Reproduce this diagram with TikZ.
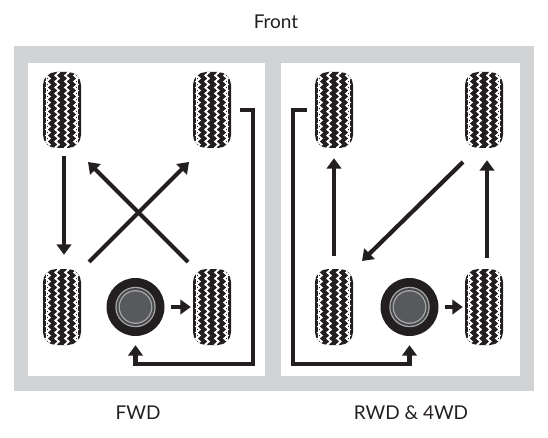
\documentclass[tikz,border=0pt]{standalone}
\usepackage{fontspec}
\setmainfont{Lato}
\usetikzlibrary{arrows.meta,decorations.pathmorphing}

\definecolor{framegray}{HTML}{D1D3D4}
\definecolor{ringgray}{HTML}{A7A9AC}
\definecolor{hubgray}{HTML}{58595B}
\definecolor{inkblack}{HTML}{231F20}

\tikzset{
    tire/.style={rectangle, inner sep=0pt, minimum width=38pt, minimum height=76pt,
        rounded corners=13pt, fill=inkblack,
        path picture={
            \begin{scope}[shift={(path picture bounding box.center)}, sharp corners]
                % White grooves: straight lines beside the shoulders, zigzags between the ribs
                \foreach \col in {-15.2,15.2} {
                    \draw[white, line width=1.2pt] (\col,-40) -- (\col,40);
                }
                % Running each zigzag against its neighbour makes the ribs chains of diamonds
                \foreach \col/\dir in {-14/1,-4.9/-1,4.9/1,14/-1} {
                    \draw[white, line width=1.8pt, decorate,
                        decoration={zigzag, segment length=6pt, amplitude=1.7pt}] (\col,-39*\dir) -- (\col,39*\dir);
                }
            \end{scope}
        }},
    wheel/.style={circle, inner sep=0pt, minimum size=58pt, fill=inkblack,
        path picture={
            \begin{scope}[shift={(path picture bounding box.center)}]
                \fill[ringgray] (0,0) circle (20.2);
                \fill[hubgray!70!inkblack] (0,0) circle (18.9);
                \fill[ringgray] (0,0) circle (16.9);
                \fill[hubgray] (0,0) circle (15.6);
            \end{scope}
        }},
    move/.style={draw=inkblack, line width=4.2pt, -{Triangle[length=10.5pt,width=14.5pt]}},
    caption/.style={inner sep=0pt, font=\fontsize{19}{22}\selectfont, text=inkblack}
}

\begin{document}
\begin{tikzpicture}[x=1pt,y=-1pt]
    \useasboundingbox (0,0) rectangle (548,438);

    % Grey frame and the two white panels
    \fill[framegray] (14,46) rectangle (534,391);
    \fill[white] (28,63) rectangle (265,376);
    \fill[white] (281,63) rectangle (520,376);

    % Titles
    \node[caption] (front) at (276,22) {Front};
    \node[caption] (fwd) at (138,413) {FWD};
    \node[caption] (rwd) at (411,413) {RWD \& 4WD};

    % Left panel
    \node[tire] (fl) at (62,110) {};
    \node[tire] (fr) at (212,110) {};
    \node[tire] (rl) at (62,307) {};
    \node[tire] (rr) at (212,307) {};
    \node[wheel] (sp) at (135.5,307) {};

    \coordinate (flin) at (88,162);
    \coordinate (frin) at (189,162);
    \coordinate (rlout) at (89,262);
    \coordinate (rrout) at (188,262);
    \coordinate (frout) at (240,110);
    \coordinate (bendfr) at (253,110);
    \coordinate (bendsp) at (253,364);

    \draw[move] ([xshift=2pt,yshift=-8pt]fl.south) -- ([xshift=2pt,yshift=14pt]rl.north);
    \draw[move] (rlout) -- (frin);
    \draw[move] (rrout) -- (flin);
    \draw[move] ([xshift=6pt]sp.east) -- ([xshift=-2pt]rr.west);
    \draw[move] (frout) -- (bendfr) -- (bendsp) -- (bendsp -| sp) -- ([yshift=-9pt]sp.south);

    % Right panel
    \begin{scope}[shift={(274,0)}]
        \node[tire] (flb) at (60,110) {};
        \node[tire] (frb) at (210,110) {};
        \node[tire] (rlb) at (60,307) {};
        \node[tire] (rrb) at (210,307) {};
        \node[wheel] (spb) at (135.5,307) {};

        \coordinate (frbout) at (189,162);
        \coordinate (rlbin) at (88,261);
        \coordinate (flbout) at (33,110);
        \coordinate (bendflb) at (19,110);
        \coordinate (bendspb) at (19,364);
    \end{scope}

    \draw[move] ([yshift=13pt]rlb.north) -- ([yshift=-10pt]flb.south);
    \draw[move] ([xshift=3pt,yshift=11pt]rrb.north) -- ([xshift=3pt,yshift=-12pt]frb.south);
    \draw[move] (frbout) -- (rlbin);
    \draw[move] ([xshift=6pt]spb.east) -- ([xshift=-2pt]rrb.west);
    \draw[move] (flbout) -- (bendflb) -- (bendspb) -- (bendspb -| spb) -- ([yshift=-9pt]spb.south);
\end{tikzpicture}
\end{document}
